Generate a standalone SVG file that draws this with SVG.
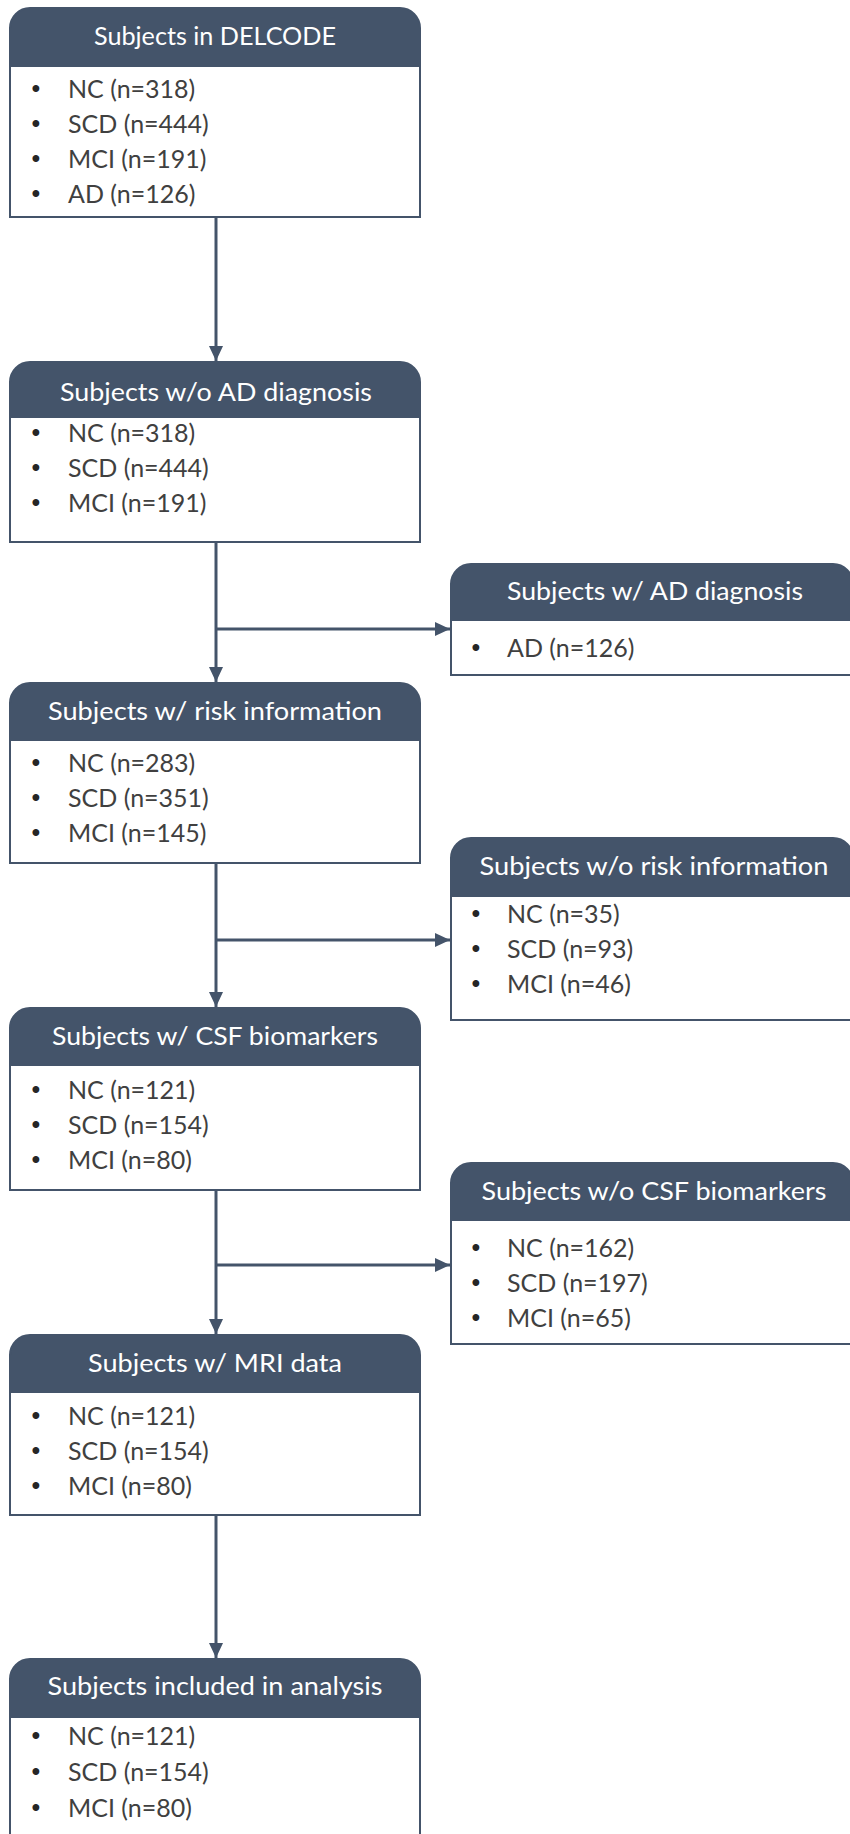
<svg xmlns="http://www.w3.org/2000/svg" width="850" height="1834" viewBox="0 0 850 1834">
<style>
.hd{fill:#44546A;stroke:#44546A;stroke-width:2}
.bd{fill:#FFFFFF;stroke:#44546A;stroke-width:2}
.ht{font-family:Lato,"Open Sans","Liberation Sans",sans-serif;font-size:25px;fill:#FFFFFF;text-anchor:middle}
.bt{font-family:Lato,"Open Sans","Liberation Sans",sans-serif;font-size:25px;fill:#404040}
.bu{font-family:"Liberation Sans",sans-serif;font-size:25px;fill:#262626;text-anchor:middle}
.cn{fill:none;stroke:#44546A;stroke-width:3}
</style>
<defs>
<marker id="ah" markerUnits="userSpaceOnUse" markerWidth="16" markerHeight="16" viewBox="0 0 16 16" refX="15" refY="8" orient="auto">
<path d="M0,1 L15,8 L0,15 Z" fill="#44546A"/>
</marker>
</defs>
<g id="connectors">
<path class="cn" d="M216,217 V361" marker-end="url(#ah)"/>
<path class="cn" d="M216,542 V682" marker-end="url(#ah)"/>
<path class="cn" d="M216,629 H450" marker-end="url(#ah)"/>
<path class="cn" d="M216,863 V1007" marker-end="url(#ah)"/>
<path class="cn" d="M216,940 H450" marker-end="url(#ah)"/>
<path class="cn" d="M216,1190 V1334" marker-end="url(#ah)"/>
<path class="cn" d="M216,1265 H450" marker-end="url(#ah)"/>
<path class="cn" d="M216,1515 V1658" marker-end="url(#ah)"/>
</g>
<g id="n1">
<path class="hd" d="M10,66 V28 A20,20 0 0 1 30,8 H400 A20,20 0 0 1 420,28 V66 Z"/>
<rect class="bd" x="10" y="66" width="410" height="151"/>
<text class="ht" x="215" y="45" textLength="242" lengthAdjust="spacingAndGlyphs">Subjects in DELCODE</text>
<text class="bu" x="36" y="97">•</text><text class="bt" x="68" y="98">NC (n=318)</text>
<text class="bu" x="36" y="132">•</text><text class="bt" x="68" y="133">SCD (n=444)</text>
<text class="bu" x="36" y="167">•</text><text class="bt" x="68" y="168">MCI (n=191)</text>
<text class="bu" x="36" y="202">•</text><text class="bt" x="68" y="203">AD (n=126)</text>
</g>
<g id="n2">
<path class="hd" d="M10,417 V382 A20,20 0 0 1 30,362 H400 A20,20 0 0 1 420,382 V417 Z"/>
<rect class="bd" x="10" y="417" width="410" height="125"/>
<text class="ht" x="216" y="401" textLength="312" lengthAdjust="spacingAndGlyphs">Subjects w/o AD diagnosis</text>
<text class="bu" x="36" y="441">•</text><text class="bt" x="68" y="442">NC (n=318)</text>
<text class="bu" x="36" y="476">•</text><text class="bt" x="68" y="477">SCD (n=444)</text>
<text class="bu" x="36" y="511">•</text><text class="bt" x="68" y="512">MCI (n=191)</text>
</g>
<g id="n3">
<path class="hd" d="M451,620 V584 A20,20 0 0 1 471,564 H833 A20,20 0 0 1 853,584 V620 Z"/>
<rect class="bd" x="451" y="620" width="402" height="55"/>
<text class="ht" x="655" y="600" textLength="296" lengthAdjust="spacingAndGlyphs">Subjects w/ AD diagnosis</text>
<text class="bu" x="476" y="656">•</text><text class="bt" x="507" y="657">AD (n=126)</text>
</g>
<g id="n4">
<path class="hd" d="M10,740 V703 A20,20 0 0 1 30,683 H400 A20,20 0 0 1 420,703 V740 Z"/>
<rect class="bd" x="10" y="740" width="410" height="123"/>
<text class="ht" x="215" y="720" textLength="334" lengthAdjust="spacingAndGlyphs">Subjects w/ risk information</text>
<text class="bu" x="36" y="771">•</text><text class="bt" x="68" y="772">NC (n=283)</text>
<text class="bu" x="36" y="806">•</text><text class="bt" x="68" y="807">SCD (n=351)</text>
<text class="bu" x="36" y="841">•</text><text class="bt" x="68" y="842">MCI (n=145)</text>
</g>
<g id="n5">
<path class="hd" d="M451,896 V858 A20,20 0 0 1 471,838 H833 A20,20 0 0 1 853,858 V896 Z"/>
<rect class="bd" x="451" y="896" width="402" height="124"/>
<text class="ht" x="654" y="875" textLength="349" lengthAdjust="spacingAndGlyphs">Subjects w/o risk information</text>
<text class="bu" x="476" y="922">•</text><text class="bt" x="507" y="923">NC (n=35)</text>
<text class="bu" x="476" y="957">•</text><text class="bt" x="507" y="958">SCD (n=93)</text>
<text class="bu" x="476" y="992">•</text><text class="bt" x="507" y="993">MCI (n=46)</text>
</g>
<g id="n6">
<path class="hd" d="M10,1065 V1028 A20,20 0 0 1 30,1008 H400 A20,20 0 0 1 420,1028 V1065 Z"/>
<rect class="bd" x="10" y="1065" width="410" height="125"/>
<text class="ht" x="215" y="1045" textLength="326" lengthAdjust="spacingAndGlyphs">Subjects w/ CSF biomarkers</text>
<text class="bu" x="36" y="1098">•</text><text class="bt" x="68" y="1099">NC (n=121)</text>
<text class="bu" x="36" y="1133">•</text><text class="bt" x="68" y="1134">SCD (n=154)</text>
<text class="bu" x="36" y="1168">•</text><text class="bt" x="68" y="1169">MCI (n=80)</text>
</g>
<g id="n7">
<path class="hd" d="M451,1220 V1183 A20,20 0 0 1 471,1163 H833 A20,20 0 0 1 853,1183 V1220 Z"/>
<rect class="bd" x="451" y="1220" width="402" height="124"/>
<text class="ht" x="654" y="1200" textLength="345" lengthAdjust="spacingAndGlyphs">Subjects w/o CSF biomarkers</text>
<text class="bu" x="476" y="1256">•</text><text class="bt" x="507" y="1257">NC (n=162)</text>
<text class="bu" x="476" y="1291">•</text><text class="bt" x="507" y="1292">SCD (n=197)</text>
<text class="bu" x="476" y="1326">•</text><text class="bt" x="507" y="1327">MCI (n=65)</text>
</g>
<g id="n8">
<path class="hd" d="M10,1392 V1355 A20,20 0 0 1 30,1335 H400 A20,20 0 0 1 420,1355 V1392 Z"/>
<rect class="bd" x="10" y="1392" width="410" height="123"/>
<text class="ht" x="215" y="1372" textLength="254" lengthAdjust="spacingAndGlyphs">Subjects w/ MRI data</text>
<text class="bu" x="36" y="1424">•</text><text class="bt" x="68" y="1425">NC (n=121)</text>
<text class="bu" x="36" y="1459">•</text><text class="bt" x="68" y="1460">SCD (n=154)</text>
<text class="bu" x="36" y="1494">•</text><text class="bt" x="68" y="1495">MCI (n=80)</text>
</g>
<g id="n9">
<path class="hd" d="M10,1717 V1679 A20,20 0 0 1 30,1659 H400 A20,20 0 0 1 420,1679 V1717 Z"/>
<rect class="bd" x="10" y="1717" width="410" height="140"/>
<text class="ht" x="215" y="1695" textLength="335" lengthAdjust="spacingAndGlyphs">Subjects included in analysis</text>
<text class="bu" x="36" y="1744">•</text><text class="bt" x="68" y="1745">NC (n=121)</text>
<text class="bu" x="36" y="1780">•</text><text class="bt" x="68" y="1781">SCD (n=154)</text>
<text class="bu" x="36" y="1816">•</text><text class="bt" x="68" y="1817">MCI (n=80)</text>
</g>
</svg>
